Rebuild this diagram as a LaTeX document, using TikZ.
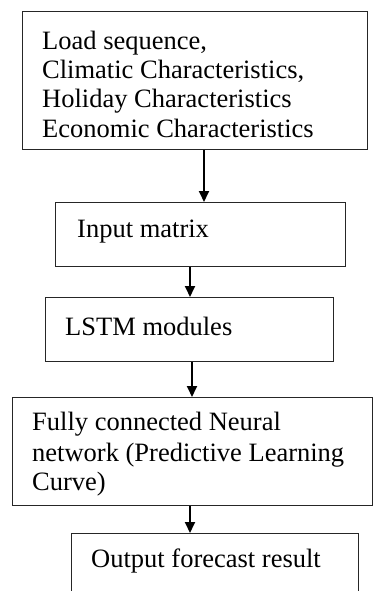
\documentclass[tikz,border=0pt]{standalone}
\usepackage{fontspec}
\setmainfont{Liberation Serif}
\usetikzlibrary{arrows.meta}
\begin{document}
\begin{tikzpicture}[x=1pt, y=-1pt,
  box/.style={draw=black!85, line width=1pt, inner sep=0pt, anchor=north west},
  lbl/.style={anchor=base west, inner sep=0pt, font=\fontsize{26.5}{29}\selectfont},
  flow/.style={line width=1.8pt, -{Triangle[length=11pt,width=10pt]}}]
\useasboundingbox (0,0) rectangle (373,591);

% process boxes
\node[box, minimum width=345, minimum height=138] (b1) at (22,11) {};
\node[box, minimum width=290, minimum height=64]  (b2) at (55,202) {};
\node[box, minimum width=288, minimum height=64]  (b3) at (45,297) {};
\node[box, minimum width=360, minimum height=108] (b4) at (12,397) {};
\node[box, minimum width=287, minimum height=80]  (b5) at (71,533) {};

% box texts
\node[lbl] (t1a) at (42,50)  {Load sequence,};
\node[lbl] (t1b) at (42,79)  {Climatic Characteristics,};
\node[lbl] (t1c) at (42,108) {Holiday Characteristics};
\node[lbl] (t1d) at (42,137) {Economic Characteristics};
\node[lbl] (t2)  at (77,237) {Input matrix};
\node[lbl] (t3)  at (65,335) {LSTM modules};
\node[lbl] (t4a) at (32,430) {Fully connected Neural};
\node[lbl] (t4b) at (32,461) {network (Predictive Learning};
\node[lbl] (t4c) at (32,490) {Curve)};
\node[lbl] (t5)  at (91,567) {Output forecast result};

% arrow columns
\coordinate (c1) at (204,0);
\coordinate (c2) at (190,0);
\coordinate (c3) at (192,0);
\coordinate (c4) at (190,0);

% connectors
\draw[flow] (b1.south -| c1) -- (b2.north -| c1);
\draw[flow] (b2.south -| c2) -- (b3.north -| c2);
\draw[flow] (b3.south -| c3) -- (b4.north -| c3);
\draw[flow] (b4.south -| c4) -- (b5.north -| c4);
\end{tikzpicture}
\end{document}
